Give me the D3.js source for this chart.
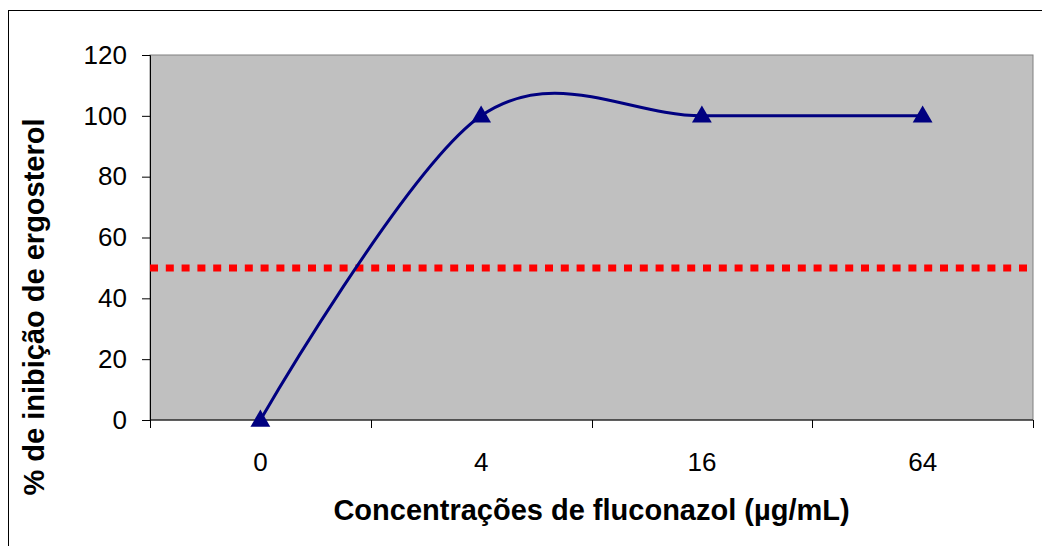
<!DOCTYPE html>
<html>
<head>
<meta charset="utf-8">
<script src="https://cdn.jsdelivr.net/npm/d3@7"></script>
<style>
  body { margin: 0; background: #fff; }
  text { font-family: "Liberation Sans", Arial, sans-serif; }
</style>
</head>
<body>
<div id="chart"></div>
<script>
var categories = ["0", "4", "16", "64"];
var inhibition = [0, 100, 100, 100];
var yTicks = [0, 20, 40, 60, 80, 100, 120];
var cutoff = 50;

var width = 1042;
var height = 546;
var margin = {left: 150, right: 9, top: 55, bottom: 126};

var svg = d3.select("#chart")
      .append("svg")
      .attr("width", width)
      .attr("height", height);

// outer frame (runs off the bottom and right edges)
svg.append("rect")
   .attr("x", 8.5).attr("y", 10.5)
   .attr("width", 1100).attr("height", 600)
   .attr("fill", "#fff")
   .attr("stroke", "#000")
   .attr("stroke-width", 1);

var x = d3.scaleBand()
    .domain(categories)
    .range([margin.left, width - margin.right]);

var y = d3.scaleLinear()
    .domain([0, 120])
    .range([height - margin.bottom, margin.top]);

// plot area
svg.append("rect")
   .attr("x", x.range()[0]).attr("y", y(120))
   .attr("width", x.range()[1] - x.range()[0])
   .attr("height", y(0) - y(120))
   .attr("fill", "#c0c0c0")
   .attr("stroke", "#808080")
   .attr("stroke-width", 1);

// y axis
var yAxis = d3.axisLeft(y).tickValues(yTicks).tickSize(8).tickPadding(15);
var gy = svg.append("g")
   .attr("transform", "translate(" + margin.left + ",0)")
   .call(yAxis);
gy.select(".domain").attr("stroke", "#000");
gy.selectAll("text").attr("font-size", 26).attr("fill", "#000")
   .style("font-family", "'Liberation Sans', Arial, sans-serif");

// x axis: ticks between categories
var xAxis = d3.axisBottom(x).tickSize(0).tickPadding(33);
var gx = svg.append("g")
   .attr("transform", "translate(0," + y(0) + ")")
   .call(xAxis);
gx.select(".domain").remove();
gx.selectAll("text").attr("font-size", 26).attr("fill", "#000")
   .style("font-family", "'Liberation Sans', Arial, sans-serif");

svg.append("line")
   .attr("x1", x.range()[0]).attr("x2", x.range()[1])
   .attr("y1", y(0)).attr("y2", y(0))
   .attr("stroke", "#000");

var bounds = categories.map(function(c){ return x(c); }).concat([x.range()[1]]);
svg.selectAll(".xtick")
   .data(bounds)
   .enter().append("line")
   .attr("x1", function(d){ return Math.round(d) + 0.5; })
   .attr("x2", function(d){ return Math.round(d) + 0.5; })
   .attr("y1", y(0)).attr("y2", y(0) + 8)
   .attr("stroke", "#000");

// red dotted 50% line
svg.append("line")
   .attr("x1", x.range()[0]).attr("x2", x.range()[1])
   .attr("y1", y(cutoff)).attr("y2", y(cutoff))
   .attr("stroke", "#ff0000")
   .attr("stroke-width", 7)
   .attr("stroke-dasharray", "8,7.8");

// smoothed series line
var cx = function(d, i){ return x(categories[i]) + x.bandwidth() / 2; };
var line = d3.line()
    .x(cx)
    .y(function(d){ return y(d); })
    .curve(d3.curveCardinal.tension(0));

svg.append("path")
   .datum(inhibition)
   .attr("d", line)
   .attr("fill", "none")
   .attr("stroke", "#000080")
   .attr("stroke-width", 3);

var tri = d3.symbol().type(d3.symbolTriangle).size(170);
svg.selectAll(".marker")
   .data(inhibition)
   .enter().append("path")
   .attr("d", tri)
   .attr("transform", function(d, i){ return "translate(" + cx(d, i) + "," + (y(d) + 1) + ")"; })
   .attr("fill", "#000080");

// axis titles
svg.append("text")
   .attr("x", (x.range()[0] + x.range()[1]) / 2)
   .attr("y", 520)
   .attr("text-anchor", "middle")
   .attr("font-size", 29)
   .attr("font-weight", "bold")
   .text("Concentrações de fluconazol (µg/mL)");

svg.append("text")
   .attr("transform", "translate(44,307) rotate(-90)")
   .attr("text-anchor", "middle")
   .attr("font-size", 29)
   .attr("font-weight", "bold")
   .text("% de inibição de ergosterol");
</script>
</body>
</html>
